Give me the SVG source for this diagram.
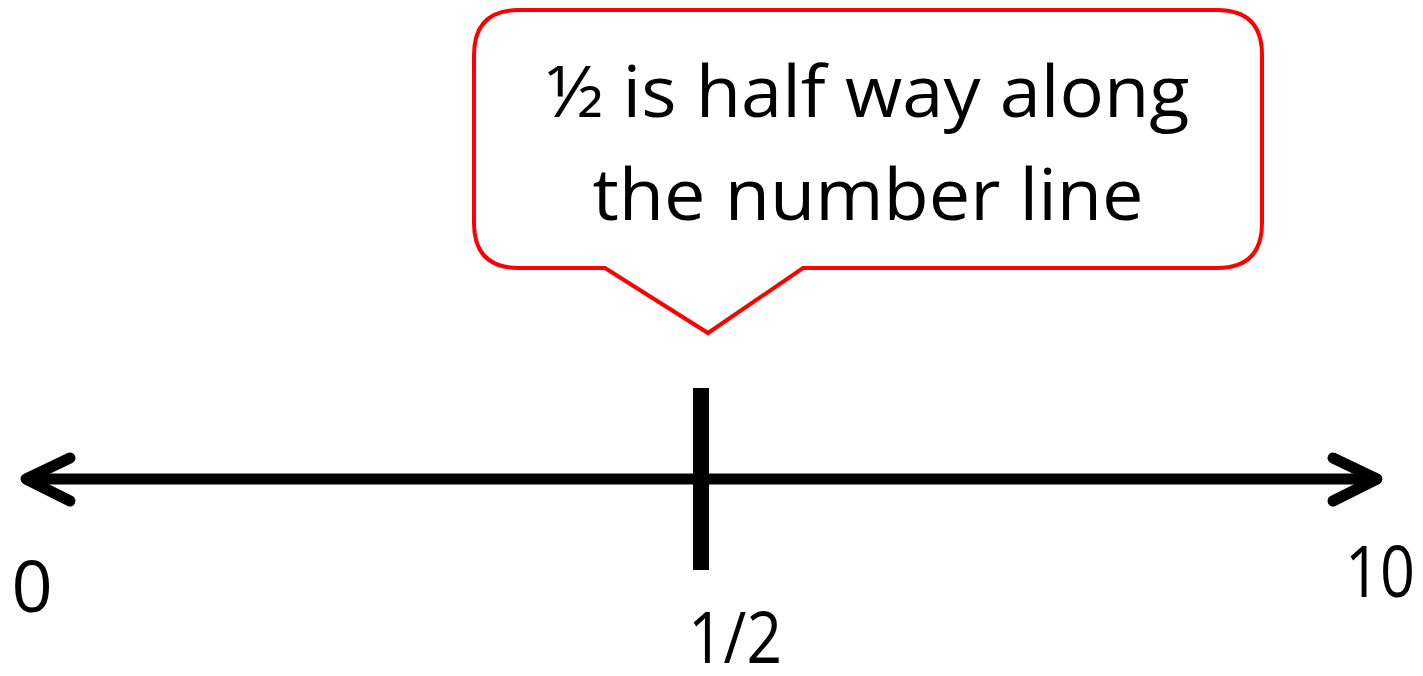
<svg xmlns="http://www.w3.org/2000/svg" width="1423" height="676" viewBox="0 0 1423 676">
<style>
.t{font-family:"Open Sans","Noto Sans","Liberation Sans",sans-serif;fill:#000}
.ln{stroke:#000;stroke-width:11;fill:none;stroke-linecap:round;stroke-linejoin:round}
</style>
<rect width="1423" height="676" fill="#fff"/>
<g id="callout">
<path d="M519,10 H1217 Q1262,10 1262,55 V223 Q1262,268 1217,268 H803 L708,333 L605,268 H519 Q474,268 474,223 V55 Q474,10 519,10 Z" fill="#fff" stroke="#ff0000" stroke-width="4"/>
<text class="t" x="868" y="117" font-size="72" text-anchor="middle" textLength="643" lengthAdjust="spacingAndGlyphs">½ is half way along</text>
<text class="t" x="868" y="220" font-size="72" text-anchor="middle" textLength="551" lengthAdjust="spacingAndGlyphs">the number line</text>
</g>
<g id="connectors">
<line class="ln" x1="28" y1="479" x2="1376" y2="479" stroke-linecap="butt"/>
<polyline class="ln" points="70,458 26,479 70,501"/>
<polyline class="ln" points="1333,458 1377,479 1333,501"/>
<line x1="701" y1="388" x2="701" y2="570" stroke="#000" stroke-width="16"/>
</g>
<g id="labels">
<text class="t" x="32" y="612" font-size="72" text-anchor="middle">0</text>
<text class="t" x="1380" y="597" font-size="72" text-anchor="middle" textLength="70" lengthAdjust="spacingAndGlyphs">10</text>
<text class="t" x="735" y="663" font-size="72" text-anchor="middle" textLength="94" lengthAdjust="spacingAndGlyphs">1/2</text>
</g>
</svg>
